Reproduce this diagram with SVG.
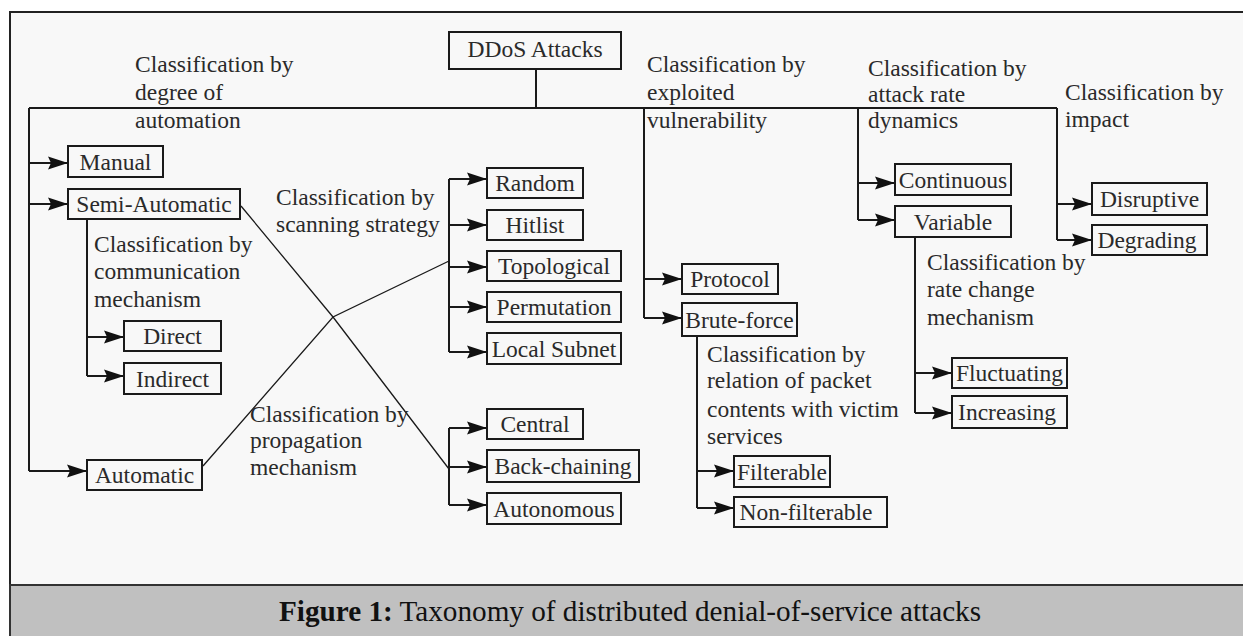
<svg xmlns="http://www.w3.org/2000/svg" width="1243" height="636" viewBox="0 0 1243 636" font-family="'Liberation Serif', 'Times New Roman', serif">
<style>
.box{fill:none;stroke:#1a1a1a;stroke-width:2}
.ln{fill:none;stroke:#1a1a1a;stroke-width:2}
.thin{fill:none;stroke:#1a1a1a;stroke-width:1.3}
.arr{fill:none;stroke:#1a1a1a;stroke-width:2;marker-end:url(#ah)}
text{font-family:'Liberation Serif','Times New Roman',serif;font-size:23.5px;fill:#2a2a2a}
.n{text-anchor:middle}
.cap{font-size:29.2px;fill:#111}
</style>
<defs>
<marker id="ah" markerUnits="userSpaceOnUse" markerWidth="20" markerHeight="14" refX="20" refY="7" orient="auto">
<path d="M0,0.5 L20,7 L0,13.5 L3,7 Z" fill="#111"/>
</marker>
</defs>
<rect x="0" y="0" width="1243" height="636" fill="#ffffff"/>
<rect x="10" y="12" width="1245" height="630" fill="#f8f8f8" stroke="#222" stroke-width="2"/>
<rect x="10" y="585" width="1245" height="60" fill="#c0c0c0" stroke="#333" stroke-width="2"/>

<g id="connectors">
<path class="ln" d="M536,69 V108 M29,108 H1057 M29,108 V471 M87,219 V376 M449,179 V352 M449,428 V505 M644,108 V318 M697,336 V508 M858,108 V220 M915,237 V413 M1057,108 V240"/>
<path class="arr" d="M29,163 H68"/>
<path class="arr" d="M29,204 H68"/>
<path class="arr" d="M29,471 H87"/>
<path class="arr" d="M87,337 H124"/>
<path class="arr" d="M87,376 H124"/>
<path class="thin" d="M241,206 L333,317 L449,469"/>
<path class="thin" d="M203,466 L333,317 L449,261"/>
<path class="arr" d="M449,179 H487"/>
<path class="arr" d="M449,225 H487"/>
<path class="arr" d="M449,267 H487"/>
<path class="arr" d="M449,307 H487"/>
<path class="arr" d="M449,352 H487"/>
<path class="arr" d="M449,428 H487"/>
<path class="arr" d="M449,467 H487"/>
<path class="arr" d="M449,505 H487"/>
<path class="arr" d="M644,279 H682"/>
<path class="arr" d="M644,318 H682"/>
<path class="arr" d="M697,471 H734"/>
<path class="arr" d="M697,508 H734"/>
<path class="arr" d="M858,183 H895"/>
<path class="arr" d="M858,220 H895"/>
<path class="arr" d="M915,373 H952"/>
<path class="arr" d="M915,413 H952"/>
<path class="arr" d="M1057,204 H1092"/>
<path class="arr" d="M1057,240 H1092"/>
</g>

<g id="labels">
<text x="135" y="72">Classification by</text><text x="135" y="100">degree of</text><text x="135" y="128">automation</text>
<text x="94" y="252">Classification by</text><text x="94" y="279">communication</text><text x="94" y="307">mechanism</text>
<text x="276" y="205">Classification by</text><text x="276" y="232">scanning strategy</text>
<text x="250" y="422">Classification by</text><text x="250" y="448">propagation</text><text x="250" y="475">mechanism</text>
<text x="647" y="72">Classification by</text><text x="647" y="100">exploited</text><text x="647" y="128">vulnerability</text>
<text x="868" y="76">Classification by</text><text x="868" y="102">attack rate</text><text x="868" y="128">dynamics</text>
<text x="1065" y="100">Classification by</text><text x="1065" y="127">impact</text>
<text x="927" y="270">Classification by</text><text x="927" y="297">rate change</text><text x="927" y="325">mechanism</text>
<text x="707" y="362">Classification by</text><text x="707" y="388">relation of packet</text><text x="707" y="417">contents with victim</text><text x="707" y="444">services</text>
</g>

<g id="n-ddos"><rect class="box" x="449" y="32" width="172" height="37"/><text class="n" x="535" y="57">DDoS Attacks</text></g>
<g id="n-manual"><rect class="box" x="68" y="146" width="95" height="31"/><text class="n" x="115.5" y="169.5">Manual</text></g>
<g id="n-semi"><rect class="box" x="68" y="189" width="172" height="30"/><text class="n" x="154" y="212">Semi-Automatic</text></g>
<g id="n-direct"><rect class="box" x="124" y="321" width="97" height="30"/><text class="n" x="172.5" y="344">Direct</text></g>
<g id="n-indirect"><rect class="box" x="124" y="363" width="97" height="31"/><text class="n" x="172.5" y="386.5">Indirect</text></g>
<g id="n-automatic"><rect class="box" x="87" y="460" width="115" height="30"/><text class="n" x="144.5" y="483">Automatic</text></g>
<g id="n-random"><rect class="box" x="487" y="168" width="96" height="30"/><text class="n" x="535" y="191">Random</text></g>
<g id="n-hitlist"><rect class="box" x="487" y="210" width="96" height="30"/><text class="n" x="535" y="233">Hitlist</text></g>
<g id="n-topological"><rect class="box" x="487" y="251" width="134" height="30"/><text class="n" x="554" y="274">Topological</text></g>
<g id="n-permutation"><rect class="box" x="487" y="292" width="134" height="30"/><text class="n" x="554" y="315">Permutation</text></g>
<g id="n-localsubnet"><rect class="box" x="487" y="333" width="134" height="31"/><text class="n" x="554" y="356.5">Local Subnet</text></g>
<g id="n-central"><rect class="box" x="487" y="409" width="96" height="30"/><text class="n" x="535" y="432">Central</text></g>
<g id="n-backchaining"><rect class="box" x="487" y="450" width="152" height="32"/><text class="n" x="563" y="474">Back-chaining</text></g>
<g id="n-autonomous"><rect class="box" x="487" y="493" width="134" height="31"/><text class="n" x="554" y="516.5">Autonomous</text></g>
<g id="n-protocol"><rect class="box" x="682" y="264" width="96" height="30"/><text class="n" x="730" y="287">Protocol</text></g>
<g id="n-bruteforce"><rect class="box" x="682" y="303" width="115" height="33"/><text class="n" x="739.5" y="327.5">Brute-force</text></g>
<g id="n-filterable"><rect class="box" x="734" y="456" width="96" height="31"/><text class="n" x="782" y="479.5">Filterable</text></g>
<g id="n-nonfilterable"><rect class="box" x="734" y="497" width="153" height="30"/><text class="n" x="806" y="520">Non-filterable</text></g>
<g id="n-continuous"><rect class="box" x="895" y="164" width="116" height="31"/><text class="n" x="953" y="187.5">Continuous</text></g>
<g id="n-variable"><rect class="box" x="895" y="206" width="116" height="31"/><text class="n" x="953" y="229.5">Variable</text></g>
<g id="n-disruptive"><rect class="box" x="1092" y="183" width="115" height="32"/><text class="n" x="1149.5" y="207">Disruptive</text></g>
<g id="n-degrading"><rect class="box" x="1092" y="225" width="115" height="30"/><text class="n" x="1147" y="248">Degrading</text></g>
<g id="n-fluctuating"><rect class="box" x="952" y="358" width="115" height="30"/><text class="n" x="1009.5" y="381">Fluctuating</text></g>
<g id="n-increasing"><rect class="box" x="952" y="396" width="115" height="32"/><text class="n" x="1007" y="420">Increasing</text></g>

<text class="cap" x="279" y="621"><tspan font-weight="bold">Figure 1:</tspan> Taxonomy of distributed denial-of-service attacks</text>
</svg>
